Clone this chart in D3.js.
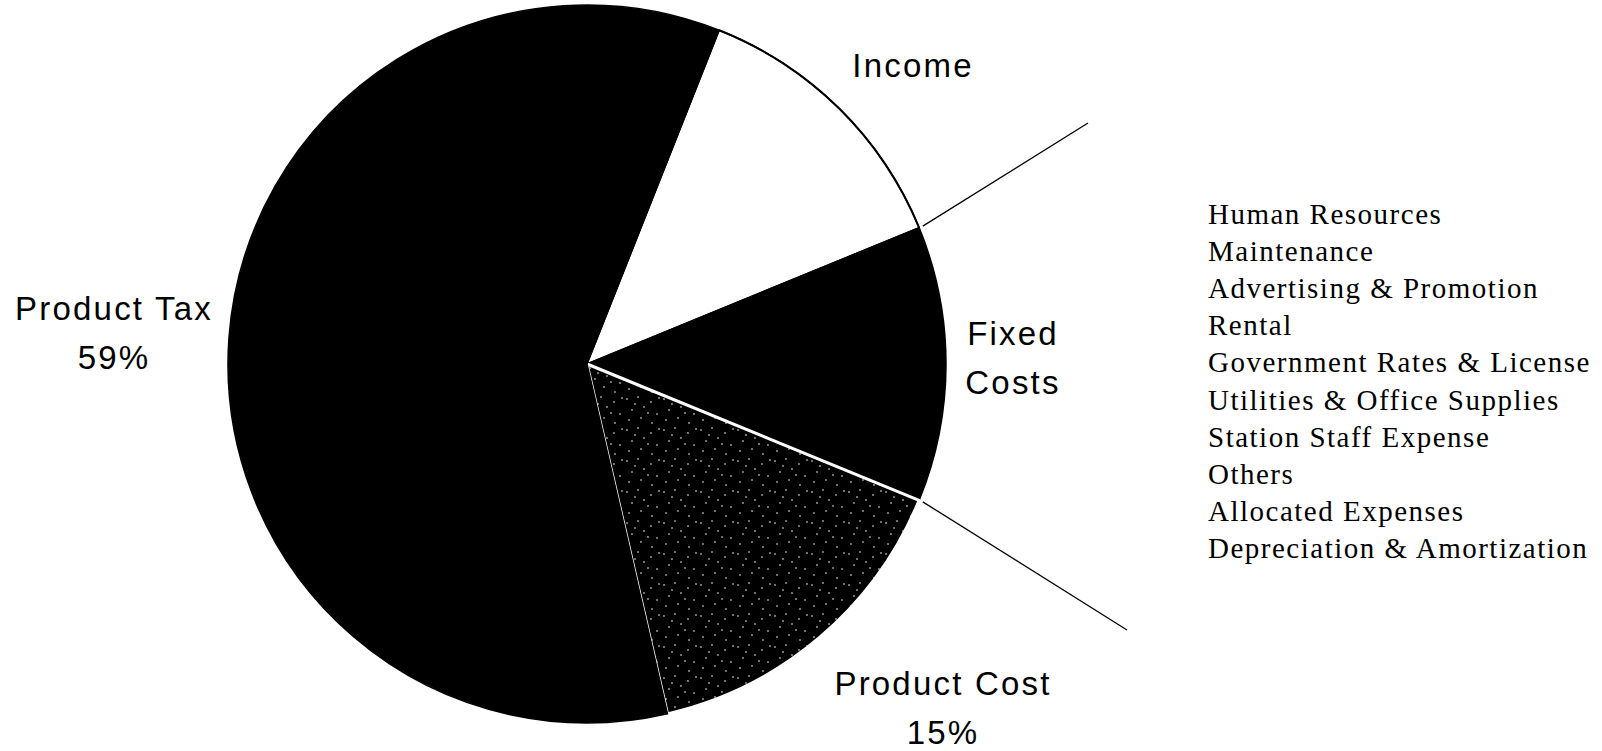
<!DOCTYPE html>
<html>
<head>
<meta charset="utf-8">
<script src="https://cdn.jsdelivr.net/npm/d3@7"></script>
<style>
  html, body { margin: 0; padding: 0; background: #fff; }
  svg { display: block; }
</style>
</head>
<body>
<div id="chart"></div>
<script>
var width = 1602,
    height = 751;

// slices, clockwise starting from Income
var categories = ["Income", "Fixed Costs", "Product Cost", "Product Tax"];
var shares = [12.8, 12.4, 15.2, 59.6];
var sliceLabels = [["Income"], ["Fixed", "Costs"], ["Product Cost", "15%"], ["Product Tax", "59%"]];

// breakdown of fixed costs
var fixedCostItems = [
  "Human Resources",
  "Maintenance",
  "Advertising & Promotion",
  "Rental",
  "Government Rates & License",
  "Utilities & Office Supplies",
  "Station Staff Expense",
  "Others",
  "Allocated Expenses",
  "Depreciation & Amortization"
];

var cx = 587, cy = 364, r = 359;
var startDeg = 21.6;

var svg = d3.select("#chart").append("svg")
    .attr("width", width)
    .attr("height", height);

// speckled fill for product cost
var pat = svg.append("defs").append("pattern")
    .attr("id", "speckle")
    .attr("patternUnits", "userSpaceOnUse")
    .attr("width", 37)
    .attr("height", 31);
pat.append("rect").attr("width", 37).attr("height", 31).attr("fill", "#000");
var specks = [[3, 4], [14, 2], [27, 7], [8, 15], [20, 12], [33, 19], [5, 25], [17, 23], [28, 28], [11, 9], [24, 18], [35, 3]];
pat.selectAll("circle")
    .data(specks)
  .enter().append("circle")
    .attr("cx", function(d) { return d[0]; })
    .attr("cy", function(d) { return d[1]; })
    .attr("r", 0.8)
    .attr("fill", "#fff");

var fills = {
  "Income": "#fff",
  "Fixed Costs": "#000",
  "Product Cost": "url(#speckle)",
  "Product Tax": "#000"
};

var pie = d3.pie()
    .sort(null)
    .value(function(d) { return d.value; })
    .startAngle(startDeg * Math.PI / 180)
    .endAngle(startDeg * Math.PI / 180 + 2 * Math.PI);

var arc = d3.arc().innerRadius(0).outerRadius(r);

var arcs = pie(categories.map(function(c, i) { return {name: c, value: shares[i]}; }));

var g = svg.append("g")
    .attr("transform", "translate(" + cx + "," + cy + ")");

g.selectAll("path.slice")
    .data(arcs)
  .enter().append("path")
    .attr("class", "slice")
    .attr("d", arc)
    .attr("fill", function(d) { return fills[d.data.name]; })
    .attr("stroke", function(d) { return d.data.name == "Product Cost" ? "#fff" : "#000"; })
    .attr("stroke-width", function(d) { return d.data.name == "Product Cost" ? 3 : 1.5; })
    .attr("stroke-linejoin", "round");

// outline of the white slice along the rim
var inc = arcs[0];
g.append("path")
    .attr("d", d3.arc().innerRadius(r - 1).outerRadius(r + 1)({startAngle: inc.startAngle, endAngle: inc.endAngle}))
    .attr("fill", "#000");

// breakout lines from the fixed costs slice
var fc = arcs[1];
var lineEnds = [[fc.startAngle, 1088, 123], [fc.endAngle, 1127, 630]];
svg.selectAll("line.breakout")
    .data(lineEnds)
  .enter().append("line")
    .attr("class", "breakout")
    .attr("x1", function(d) { return cx + (r + 4) * Math.sin(d[0]); })
    .attr("y1", function(d) { return cy - (r + 4) * Math.cos(d[0]); })
    .attr("x2", function(d) { return d[1]; })
    .attr("y2", function(d) { return d[2]; })
    .attr("stroke", "#000")
    .attr("stroke-width", 1.3);

// slice labels
var labelPos = [[913, 77], [1013, 345], [943, 695], [114, 320]];
var lab = svg.selectAll("text.slice-label")
    .data(sliceLabels)
  .enter().append("text")
    .attr("class", "slice-label")
    .attr("text-anchor", "middle")
    .attr("font-family", "Liberation Sans, Arial, sans-serif")
    .attr("font-size", 33)
    .attr("letter-spacing", 2.2)
    .attr("fill", "#000")
    .attr("transform", function(d, i) { return "translate(" + labelPos[i] + ")"; });
lab.selectAll("tspan")
    .data(function(d) { return d; })
  .enter().append("tspan")
    .attr("x", 0)
    .attr("y", function(d, i) { return i * 49; })
    .text(function(d) { return d; });

// fixed costs breakdown list
var listY = d3.scalePoint()
    .domain(fixedCostItems)
    .range([224, 558]);

svg.selectAll("text.item")
    .data(fixedCostItems)
  .enter().append("text")
    .attr("class", "item")
    .attr("x", 1208)
    .attr("y", function(d) { return listY(d); })
    .attr("font-family", "Liberation Serif, Times New Roman, serif")
    .attr("font-size", 29)
    .attr("letter-spacing", 1.5)
    .attr("fill", "#000")
    .text(function(d) { return d; });
</script>
</body>
</html>
